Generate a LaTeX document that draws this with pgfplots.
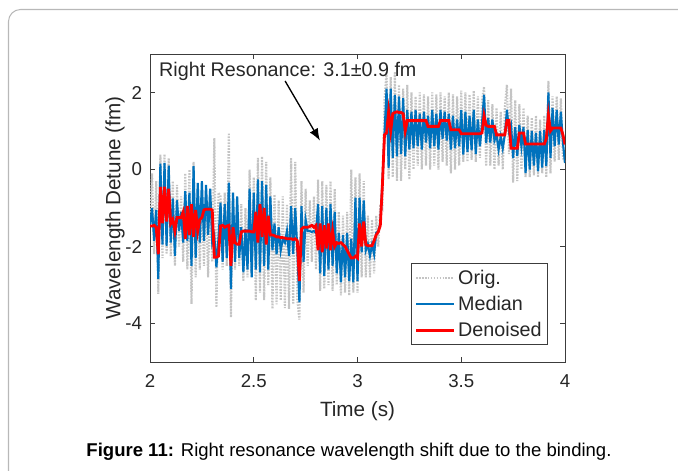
\documentclass[border=0pt]{standalone}
\usepackage{fontspec}
\setmainfont{Liberation Sans}
\usepackage{pgfplots}
\usepackage{pgfplotstable}
\pgfplotsset{compat=1.18}
\usetikzlibrary{arrows.meta}
\definecolor{mblue}{RGB}{0,114,189}
\definecolor{mgray}{RGB}{196,196,196}
\definecolor{axgray}{RGB}{38,38,38}

\pgfplotstableread{
t med orig den
2.00 -1.45 -1.20 -1.47
2.01 -1.00 -0.10 -1.47
2.02 -1.85 -2.20 -1.45
2.03 -1.05 -0.30 -1.50
2.04 -2.84 -3.23 -2.20
2.05 0.15 0.39 -0.45
2.06 -1.95 -2.30 -1.40
2.07 0.17 0.40 -0.45
2.08 -1.98 -2.20 -1.35
2.09 0.10 0.30 -0.50
2.10 -1.90 -2.25 -1.40
2.11 -0.75 -0.30 -1.30
2.12 -2.24 -2.50 -1.60
2.13 -0.80 -0.40 -1.25
2.14 -1.60 -2.00 -1.25
2.15 -1.10 -0.70 -1.25
2.16 -1.90 -2.40 -1.10
2.17 -0.56 -0.10 -1.80
2.18 -1.85 -2.60 -0.95
2.19 -0.60 0.00 -1.70
2.20 -2.50 -3.49 -0.90
2.21 0.09 0.20 -1.75
2.22 -2.30 -2.80 -1.05
2.23 -0.35 -0.50 -1.60
2.24 -1.90 -2.60 -1.30
2.25 -0.30 -0.60 -1.25
2.26 -1.85 -2.50 -1.05
2.27 -0.40 -0.70 -1.03
2.28 -1.70 -2.80 -1.03
2.29 -0.50 -0.50 -1.03
2.30 -1.90 -2.40 -1.05
2.31 -1.72 0.82 -2.28
2.32 -2.54 -3.58 -2.28
2.33 -1.80 -0.60 -2.25
2.34 -0.86 -0.70 -1.47
2.35 -2.40 -2.60 -1.45
2.36 -0.90 -0.60 -1.50
2.37 -2.30 -2.50 -1.47
2.38 -0.34 0.95 -1.45
2.39 -3.10 -3.84 -2.50
2.40 -0.60 -0.60 -1.50
2.41 -2.40 -2.60 -1.90
2.42 -0.70 -0.80 -1.94
2.43 -2.30 -2.50 -1.94
2.44 -1.50 -0.90 -1.62
2.45 -2.67 -2.90 -1.60
2.46 -1.55 -1.00 -1.60
2.47 -2.60 -2.80 -1.60
2.48 -0.50 0.00 -1.60
2.49 -2.80 -2.80 -1.62
2.50 -0.60 -0.20 -1.62
2.51 -2.60 -3.40 -1.10
2.52 -0.26 0.30 -1.90
2.53 -2.67 -3.20 -0.90
2.54 -0.30 0.34 -1.75
2.55 -2.50 -3.40 -1.00
2.56 -0.40 0.20 -1.95
2.57 -2.60 -3.00 -1.20
2.58 -0.70 -0.20 -1.70
2.59 -2.10 -3.62 -1.70
2.60 -1.40 -0.65 -1.72
2.61 -2.20 -3.50 -1.75
2.62 -1.50 -0.80 -1.75
2.63 -2.10 -3.40 -1.77
2.64 -1.80 -0.70 -1.77
2.65 -1.90 -3.60 -1.78
2.66 -1.60 -0.90 -1.80
2.67 -2.24 -3.62 -1.80
2.68 -0.95 0.30 -1.80
2.69 -2.20 -3.50 -1.82
2.70 -1.00 0.20 -1.80
2.71 -2.10 -3.40 -1.85
2.72 -3.45 -3.90 -2.90
2.73 -0.95 -0.30 -1.55
2.74 -2.40 -3.20 -1.50
2.75 -1.30 -0.50 -1.50
2.76 -1.60 -2.50 -1.50
2.77 -1.60 -0.80 -1.48
2.78 -1.62 -2.40 -1.45
2.79 -1.60 -0.70 -1.50
2.80 -1.65 -2.60 -1.45
2.81 -0.90 -0.26 -2.10
2.82 -2.70 -3.15 -1.40
2.83 -0.95 -0.30 -2.15
2.84 -2.76 -3.10 -1.45
2.85 -1.00 -0.40 -2.05
2.86 -2.60 -3.00 -1.40
2.87 -0.90 -0.30 -2.10
2.88 -2.50 -3.15 -1.60
2.89 -1.10 -0.50 -2.00
2.90 -2.70 -3.00 -1.90
2.91 -1.64 -1.10 -1.92
2.92 -2.93 -3.27 -1.90
2.93 -1.70 -1.20 -1.95
2.94 -2.80 -3.20 -2.00
2.95 -1.65 -1.10 -2.10
2.96 -2.90 -3.27 -2.20
2.97 -1.80 0.00 -2.30
2.98 -2.93 -3.20 -2.30
2.99 -0.73 -0.20 -2.25
3.00 -2.90 -3.20 -2.30
3.01 -0.73 -0.10 -1.40
3.02 -2.15 -2.80 -2.00
3.03 -0.80 -0.30 -1.35
3.04 -2.10 -2.80 -1.95
3.05 -1.94 -1.20 -1.98
3.06 -2.24 -2.80 -1.98
3.07 -1.95 -1.30 -1.98
3.08 -2.20 -2.70 -1.85
3.09 -1.65 -1.20 -1.70
3.10 -1.60 -2.00 -1.62
3.11 -1.40 -0.90 -1.45
3.12 -0.30 -1.00 -0.40
3.13 0.90 1.80 0.90
3.14 2.10 2.54 0.95
3.15 0.04 -0.26 1.50
3.16 2.10 2.40 1.00
3.17 0.30 -0.20 1.45
3.18 1.94 2.54 1.48
3.19 0.34 -0.30 1.50
3.20 1.90 2.20 1.48
3.21 0.40 -0.30 1.48
3.22 1.85 2.10 1.45
3.23 0.34 0.00 1.00
3.24 1.55 2.20 1.27
3.25 0.52 -0.26 1.27
3.26 1.50 2.00 1.27
3.27 0.55 0.00 1.27
3.28 1.55 1.90 1.27
3.29 0.60 0.10 1.27
3.30 1.45 2.00 1.27
3.31 0.52 0.00 1.27
3.32 1.50 1.95 1.27
3.33 0.70 0.10 1.27
3.34 1.40 1.90 1.12
3.35 0.55 0.00 1.12
3.36 1.55 2.00 1.12
3.37 0.60 0.10 1.12
3.38 1.45 1.95 1.12
3.39 0.52 0.00 1.12
3.40 1.55 2.00 1.27
3.41 0.80 0.20 1.27
3.42 1.50 1.90 1.27
3.43 0.75 0.10 1.27
3.44 1.45 2.00 1.27
3.45 0.52 -0.10 1.03
3.46 1.40 1.95 1.03
3.47 0.55 0.00 1.03
3.48 1.30 1.90 1.03
3.49 0.60 0.10 1.03
3.50 1.55 2.05 0.93
3.51 0.39 0.20 0.93
3.52 1.50 2.00 0.93
3.53 0.45 0.20 0.93
3.54 1.40 1.95 0.93
3.55 0.50 0.25 0.93
3.56 1.55 2.05 0.93
3.57 0.40 0.20 0.93
3.58 1.30 1.90 0.93
3.59 0.60 0.30 0.93
3.60 1.20 1.80 0.95
3.61 1.94 2.15 1.40
3.62 0.69 0.09 1.15
3.63 1.34 1.80 1.12
3.64 0.70 0.10 1.12
3.65 1.30 1.70 1.12
3.66 0.75 0.00 1.12
3.67 0.90 1.60 0.90
3.68 0.52 0.10 0.90
3.69 0.85 1.50 0.90
3.70 0.55 0.00 0.90
3.71 0.90 1.60 0.90
3.72 1.55 2.20 1.27
3.73 1.00 0.40 1.27
3.74 1.16 2.10 0.55
3.75 0.30 -0.34 0.55
3.76 1.10 1.80 0.55
3.77 0.35 -0.30 0.55
3.78 1.16 1.70 0.95
3.79 0.60 0.00 0.95
3.80 1.10 1.60 0.95
3.81 -0.09 -0.20 0.66
3.82 1.03 1.40 0.66
3.83 0.00 -0.20 0.66
3.84 1.00 1.35 0.66
3.85 0.10 -0.15 0.66
3.86 0.95 1.40 0.66
3.87 -0.05 -0.20 0.66
3.88 1.00 1.30 0.66
3.89 0.05 -0.10 0.66
3.90 1.03 1.40 0.66
3.91 0.09 -0.20 0.80
3.92 2.00 2.30 1.42
3.93 0.30 -0.10 1.00
3.94 1.60 1.90 1.08
3.95 0.60 0.20 1.08
3.96 1.55 1.90 1.08
3.97 0.65 0.25 1.08
3.98 1.50 1.85 1.08
3.99 0.70 0.30 0.90
4.00 0.17 0.20 0.65
}\datatable

\begin{document}
\begin{tikzpicture}[x=0.75pt,y=0.75pt]
\useasboundingbox (0,0) rectangle (678,471);
\draw[black!28, line width=0.8pt, rounded corners=9pt] (8.5,-20) -- (8.5,461.5) -- (700,461.5);
\begin{axis}[
  at={(112.5pt,81.75pt)}, anchor=south west,
  width=311.25pt, height=231pt, scale only axis,
  xmin=2, xmax=4, ymin=-5, ymax=3,
  xtick={2,2.5,3,3.5,4}, ytick={-4,-2,0,2},
  tick align=inside, major tick length=3.8pt,
  axis line style={draw=axgray!90, line width=0.6pt},
  every tick/.style={axgray!90, line width=0.6pt},
  /pgf/number format/assume math mode=true,
  ticklabel style={font=\fontsize{14}{16}\selectfont, text=axgray},
  xticklabel style={yshift=-6pt},
  yticklabel style={xshift=-2.5pt},
  xlabel={Time (s)}, ylabel={Wavelength Detune (fm)},
  label style={font=\fontsize{15.5}{18}\selectfont, text=axgray},
  xlabel style={at={(axis description cs:0.5,-0.158)}, anchor=center},
  ylabel style={at={(axis description cs:-0.0845,0.5)}, anchor=center},
  legend style={at={(rel axis cs:0.959,0.055)}, anchor=south east,
    draw=axgray!90, line width=0.6pt, font=\fontsize{14.8}{17}\selectfont,
    text=axgray, inner xsep=2.5pt, inner ysep=2.5pt, row sep=3.5pt},
  legend cell align=left,
  legend image code/.code={\draw[#1] (0pt,0pt) -- (28.5pt,0pt);},
  clip=true,
]
\addplot[mgray, line width=1.6pt, dash pattern=on 1.2pt off 1pt] table[x=t,y=orig] {\datatable};
\addlegendentry{Orig.}
\addplot[mblue, line width=1.6pt] table[x=t,y=med] {\datatable};
\addlegendentry{Median}
\addplot[red, line width=2.1pt] table[x=t,y=den] {\datatable};
\addlegendentry{Denoised}
\node[anchor=west, inner sep=0pt, font=\fontsize{14.8}{17}\selectfont, text=axgray] at (axis cs:2.043,2.56) {Right Resonance: 3.1±0.9 fm};
\draw[-{Latex[length=9pt,width=7pt]}, line width=1pt, black] (axis cs:2.651,2.30) -- (axis cs:2.819,0.75);
\end{axis}
\node[font=\fontsize{13.9}{16}\selectfont, text=black] at (349,19) {\textbf{Figure 11:} Right resonance wavelength shift due to the binding.};
\end{tikzpicture}
\end{document}
